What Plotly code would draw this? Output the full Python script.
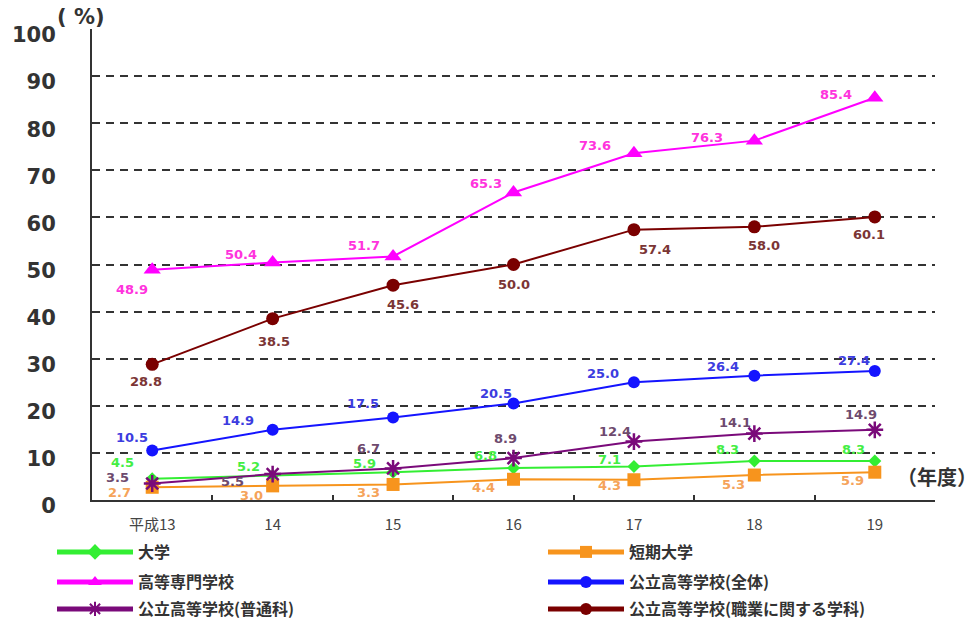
import plotly.graph_objects as go

years = ["平成13", "14", "15", "16", "17", "18", "19"]
y_ticks = [0, 10, 20, 30, 40, 50, 60, 70, 80, 90, 100]

daigaku = [4.5, 5.2, 5.9, 6.8, 7.1, 8.3, 8.3]
tanki = [2.7, 3.0, 3.3, 4.4, 4.3, 5.3, 5.9]
kosen = [48.9, 50.4, 51.7, 65.3, 73.6, 76.3, 85.4]
koko_all = [10.5, 14.9, 17.5, 20.5, 25.0, 26.4, 27.4]
koko_futsu = [3.5, 5.5, 6.7, 8.9, 12.4, 14.1, 14.9]
koko_shoku = [28.8, 38.5, 45.6, 50.0, 57.4, 58.0, 60.1]

names = {
    "daigaku": "大学",
    "tanki": "短期大学",
    "kosen": "高等専門学校",
    "all": "公立高等学校(全体)",
    "futsu": "公立高等学校(普通科)",
    "shoku": "公立高等学校(職業に関する学科)",
}

JP = "Noto Sans CJK JP"
NUM = "DejaVu Sans"

# styles: (line color, label color, marker symbol, marker size, legend, rank, column)
series = [
    ("shoku", koko_shoku, "#7a0000", "#7b3535", "circle", 13, "legend3", 2, 1),
    ("kosen", kosen, "#ff00ff", "#ff33dd", "triangle-up", 15, "legend2", 1, 0),
    ("all", koko_all, "#1414ff", "#3c3ce0", "circle", 12, "legend2", 2, 1),
    ("daigaku", daigaku, "#33ee33", "#44ee44", "diamond", 10, "legend", 1, 0),
    ("tanki", tanki, "#f7941d", "#f5a35a", "square", 13, "legend", 2, 1),
    ("futsu", koko_futsu, "#7a0a7a", "#6e4a6e", "asterisk-open", 14, "legend3", 1, 0),
]

# label offsets in screen pixels (dx, dy; dy positive = downward)
offsets = {
    "kosen": [(-20, 20), (-32, -8), (-29, -11), (-28, -9), (-39, -8), (-47, -3), (-39, -3)],
    "shoku": [(-6, 17), (1, 23), (10, 19), (0, 20), (21, 20), (10, 19), (-6, 18)],
    "all": [(-20, -13), (-35, -9), (-30, -14), (-18, -10), (-31, -9), (-31, -9), (-21, -10)],
    "futsu": [(-35, -6), (-40, 7), (-25, -20), (-8, -20), (-19, -10), (-19, -11), (-14, -15)],
    "daigaku": [(-30, -16), (-24, -9), (-29, -9), (-28, -12), (-24, -7), (-27, -11), (-21, -11)],
    "tanki": [(-33, 5), (-21, 10), (-25, 8), (-30, 8), (-24, 6), (-21, 9), (-22, 8)],
}

fig = go.Figure()
annotations = []
for key, vals, color, lcolor, sym, size, leg, rank, col in series:
    marker = dict(symbol=sym, size=size, color=color)
    if sym == "asterisk-open":
        marker["line"] = dict(color=color, width=2.5)
    fig.add_trace(go.Scatter(
        x=years, y=vals, mode="lines+markers", name=names[key],
        line=dict(color=color, width=2), marker=marker,
        legend=leg, legendrank=rank, legendwidth=400 if col == 0 else 280,
        cliponaxis=False,
    ))
    for i, v in enumerate(vals):
        dx, dy = offsets[key][i]
        annotations.append(dict(
            x=i, y=v, xref="x", yref="y", text=f"{v:.1f}",
            showarrow=False, xshift=dx, yshift=-dy,
            font=dict(family=NUM, size=13, color=lcolor, weight="bold"),
        ))

L, R, T, B = 92, 41, 29, 120
W, H = 976, 620
pw, ph = W - L - R, H - T - B


def px(xp, yp):
    return (xp - L) / pw, (H - yp - B) / ph


ax, ay = px(81, 17)
annotations.append(dict(
    x=ax, y=ay, xref="paper", yref="paper", text="( %)", showarrow=False,
    xanchor="center", yanchor="middle",
    font=dict(family=NUM, size=21, color="#333333", weight="bold"),
))
ax, ay = px(895, 476)
annotations.append(dict(
    x=ax, y=ay, xref="paper", yref="paper", text="（年度）", showarrow=False,
    xanchor="left", yanchor="middle",
    font=dict(family=JP, size=20, color="#333333", weight="bold"),
))

legend_common = dict(
    orientation="h", xref="paper", yref="paper",
    xanchor="left", yanchor="middle", itemwidth=76, itemsizing="constant",
    font=dict(family=JP, size=16, color="#333333", weight="bold"),
    bgcolor="rgba(0,0,0,0)", tracegroupgap=0, itemclick=False,
)
lx, ly1 = px(52, 552)
_, ly2 = px(52, 582)
_, ly3 = px(52, 609)

fig.update_layout(
    width=W, height=H,
    margin=dict(l=L, r=R, t=T, b=B, autoexpand=False),
    paper_bgcolor="white", plot_bgcolor="white",
    showlegend=True,
    legend=dict(legend_common, x=lx, y=ly1),
    legend2=dict(legend_common, x=lx, y=ly2),
    legend3=dict(legend_common, x=lx, y=ly3),
    annotations=annotations,
    xaxis=dict(
        type="category", range=[-0.5, 6.5], showgrid=False,
        showline=True, linecolor="#333333", linewidth=2,
        ticks="inside", tickson="boundaries", ticklen=5, tickwidth=2, tickcolor="#333333",
        ticklabelstandoff=10,
        tickfont=dict(family=JP, size=15, color="#444444"),
        zeroline=False,
    ),
    yaxis=dict(
        range=[0, 100], tickvals=y_ticks, ticktext=[str(t) for t in y_ticks],
        showgrid=True, gridcolor="#333333", gridwidth=2, griddash="8px,6px",
        showline=True, linecolor="#333333", linewidth=2,
        ticks="", ticklabelstandoff=30, ticklabelshift=6,
        tickfont=dict(family=NUM, size=21, color="#333333", weight="bold"),
        zeroline=False,
    ),
)

fig.write_html("out.html", config={"displayModeBar": False},
               post_script="document.body.style.margin='0';")
